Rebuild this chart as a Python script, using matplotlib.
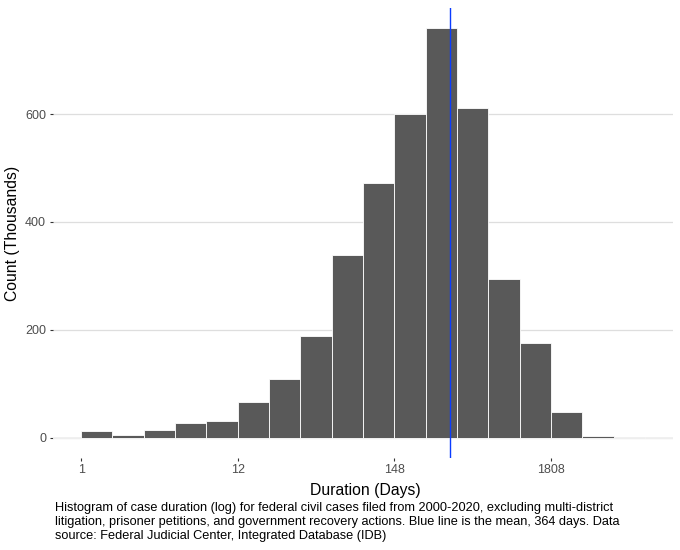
import numpy as np
import matplotlib
matplotlib.use("Agg")
import matplotlib.pyplot as plt

# Data: bins in natural-log days, counts in thousands
bin_left_edges = [-0.5, 0.0, 0.5, 1.0, 1.5, 2.0, 2.5, 3.0, 3.5, 4.0,
                  4.5, 5.0, 5.5, 6.0, 6.5, 7.0, 7.5, 8.0, 8.5, 9.0]
counts_thousands = [0.6, 13, 5.6, 13.5, 26.5, 31.5, 66, 108, 189, 338,
                    473, 600, 759, 611, 295, 175, 47, 2, 0.3, 0.8]
bin_width = 0.5
mean_days = 364

x_tick_positions = [0.0, 2.5, 5.0, 7.5]
x_tick_labels = ["1", "12", "148", "1808"]
y_ticks = [0, 200, 400, 600]

caption = ("Histogram of case duration (log) for federal civil cases filed from 2000-2020, excluding multi-district\n"
           "litigation, prisoner petitions, and government recovery actions. Blue line is the mean, 364 days. Data\n"
           "source: Federal Judicial Center, Integrated Database (IDB)")

plt.rcParams['font.family'] = ['Liberation Sans', 'DejaVu Sans']

W, H = 680, 550
fig = plt.figure(figsize=(W / 100, H / 100), dpi=100)
left, right, top, bottom = 53, 673, 8, 458
ax = fig.add_axes([left / W, (H - bottom) / H, (right - left) / W, (bottom - top) / H])

ax.bar(bin_left_edges, counts_thousands, width=bin_width, align='edge',
       color='#595959', edgecolor='white', linewidth=0.6, zorder=2)
ax.axvline(np.log(mean_days), color='#0a3cff', linewidth=1.0, zorder=3)

# ggplot-like expansion
xmin, xmax = 0.0, 9.0
xr = xmax - xmin
ax.set_xlim(xmin - 0.05 * xr, xmax + 0.05 * xr)
ymax = max(counts_thousands)
ax.set_ylim(-0.05 * ymax, ymax * 1.05)

ax.set_xticks(x_tick_positions)
ax.set_xticklabels(x_tick_labels)
ax.set_yticks(y_ticks)
ax.set_yticklabels([str(v) for v in y_ticks])

ax.tick_params(axis='both', colors='#333333', labelcolor='#4d4d4d', labelsize=9,
               length=2.5, width=0.8)
ax.tick_params(axis='x', pad=2.0)
ax.tick_params(axis='y', pad=2.5)

for s in ax.spines.values():
    s.set_visible(False)
ax.set_axisbelow(True)
ax.yaxis.grid(True, color='#dedede', linewidth=0.9, zorder=0)
ax.xaxis.grid(False)

fig.text(13 / W, 1 - 233 / H, "Count (Thousands)", rotation=90, ha='center', va='center',
         fontsize=11.3, color='black')
fig.text(365 / W, 1 - 490 / H, "Duration (Days)", ha='center', va='center',
         fontsize=11.3, color='black')
fig.text(55 / W, 1 - 502 / H, caption, ha='left', va='top', fontsize=9.2,
         color='black', linespacing=1.2)

fig.savefig("out.png", dpi=100)
